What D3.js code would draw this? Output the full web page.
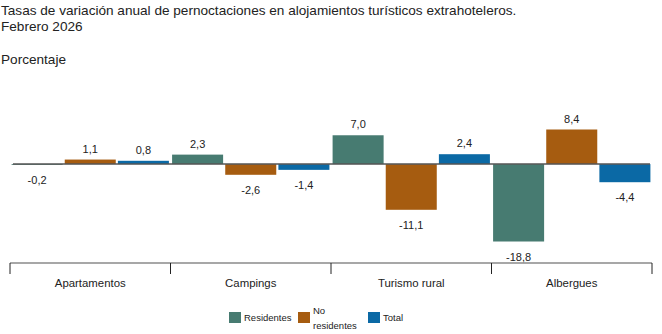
<!DOCTYPE html>
<html><head><meta charset="utf-8">
<script src="https://cdn.jsdelivr.net/npm/d3@7"></script>
<style>body{margin:0;background:#fff;}svg{display:block;font-family:"Liberation Sans",Arial,sans-serif;}</style>
</head><body><svg id="c" width="662" height="334"></svg>
<script>
const categories = ["Apartamentos","Campings","Turismo rural","Albergues"];
const seriesNames = ["Residentes","No residentes","Total"];
const residentes = [-0.2, 2.3, 7.0, -18.8];
const noResidentes = [1.1, -2.6, -11.1, 8.4];
const total = [0.8, -1.4, 2.4, -4.4];
const colors = ["#477b71","#a65c10","#0b69a5"];
const seriesValues = [residentes, noResidentes, total];

const svg = d3.select("#c");
const fmt = v => d3.format(".1f")(v).replace(".", ",").replace("\u2212", "-");

svg.append("text").attr("x",1).attr("y",15).attr("font-size",13.6).attr("fill","#222")
  .text("Tasas de variación anual de pernoctaciones en alojamientos turísticos extrahoteleros.");
svg.append("text").attr("x",1).attr("y",31).attr("font-size",13.6).attr("fill","#222").text("Febrero 2026");
svg.append("text").attr("x",1).attr("y",64).attr("font-size",13.6).attr("fill","#222").text("Porcentaje");

const x0 = d3.scaleBand().domain(categories).range([10,652]).padding(0);
const x1 = d3.scaleBand().domain(seriesNames).range([0,x0.bandwidth()]).paddingInner(0.04).paddingOuter(0.03);
const y = d3.scaleLinear().domain([-18.8, 8.4]).range([241.5, 129.5]);

const data = [];
categories.forEach((c,i)=>seriesNames.forEach((s,j)=>data.push({c,s,j,v:seriesValues[j][i]})));

const g = svg.append("g");
g.selectAll("rect.bar").data(data).join("rect").attr("class","bar")
  .attr("x",d=>x0(d.c)+x1(d.s)).attr("width",x1.bandwidth())
  .attr("y",d=>y(Math.max(0,d.v))).attr("height",d=>Math.abs(y(d.v)-y(0)))
  .attr("fill",d=>colors[d.j]);

g.append("line").attr("x1",x0.range()[0]+3).attr("x2",x0.range()[1]-2)
  .attr("y1",y(0)).attr("y2",y(0)).attr("stroke","#555").attr("stroke-width",1.5);

g.selectAll("text.lbl").data(data).join("text").attr("class","lbl")
  .attr("x",d=>x0(d.c)+x1(d.s)+x1.bandwidth()/2)
  .attr("y",d=>d.v>=0 ? y(d.v)-7 : y(d.v)+19)
  .attr("text-anchor","middle").attr("font-size",11).attr("fill","#222")
  .text(d=>fmt(d.v));

// category axis
const axY = 263;
svg.append("line").attr("x1",10).attr("x2",652).attr("y1",axY).attr("y2",axY).attr("stroke","#8a8a8a").attr("stroke-width",1.5);
const ticks = categories.map(c=>x0(c)).concat([x0.range()[1]]);
svg.selectAll("line.tk").data(ticks).join("line").attr("class","tk")
  .attr("x1",d=>d).attr("x2",d=>d).attr("y1",axY).attr("y2",axY+11).attr("stroke","#222").attr("stroke-width",1);
svg.selectAll("text.cat").data(categories).join("text").attr("class","cat")
  .attr("x",d=>x0(d)+x0.bandwidth()/2).attr("y",287).attr("text-anchor","middle")
  .attr("font-size",11.4).attr("fill","#222").text(d=>d);

// legend
const leg = [{n:["Residentes"],x:229},{n:["No","residentes"],x:298},{n:["Total"],x:368}];
leg.forEach((l,i)=>{
  svg.append("rect").attr("x",l.x).attr("y",312).attr("width",12).attr("height",11).attr("fill",colors[i]);
  if(l.n.length===1){
    svg.append("text").attr("x",l.x+15).attr("y",321).attr("font-size",9.5).attr("fill","#222").text(l.n[0]);
  } else {
    svg.append("text").attr("x",l.x+15).attr("y",314).attr("font-size",9.5).attr("fill","#222").text(l.n[0]);
    svg.append("text").attr("x",l.x+15).attr("y",329).attr("font-size",9.5).attr("fill","#222").text(l.n[1]);
  }
});
</script></body></html>
